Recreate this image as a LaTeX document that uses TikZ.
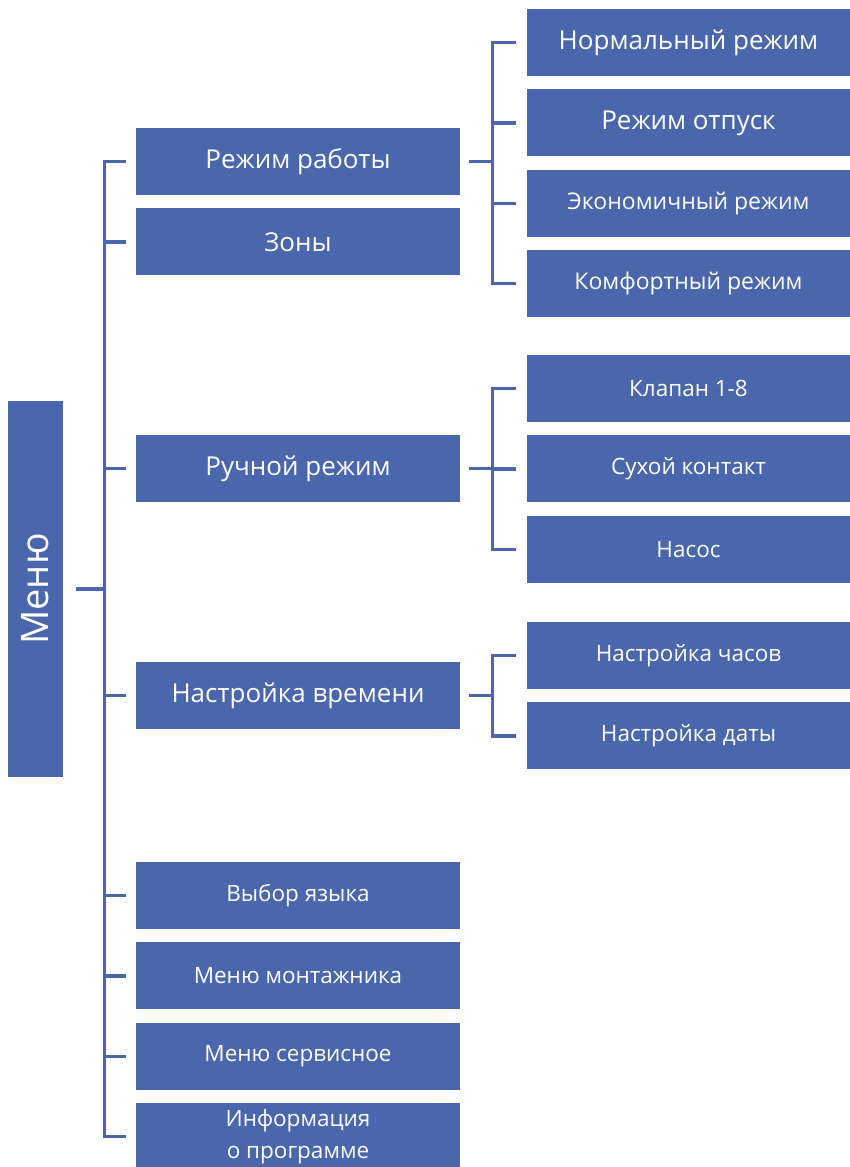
\documentclass[tikz,border=0pt]{standalone}
\usepackage{fontspec}
\setmainfont{Open Sans}
\usepackage{tikz}
\usetikzlibrary{positioning,calc}
\definecolor{menublue}{HTML}{4A66AC}
\tikzset{
  boxnode/.style = {align=center, inner sep=0pt, text centered,
    fill=menublue, text=white},
  box_l/.style = {boxnode, minimum width=324pt, minimum height=67pt},% colonne gauche
  box_r/.style = {boxnode, minimum width=323pt, minimum height=67pt},% colonne droite
  txt_b/.style = {font=\fontsize{26}{30}\selectfont},% grand texte
  txt_m/.style = {font=\fontsize{23}{27}\selectfont},% texte moyen
  txt_s/.style = {font=\fontsize{22.5}{32}\selectfont},% petit texte
  link/.style = {draw=menublue, line width=3.2pt}
}
\begin{document}
\begin{tikzpicture}[x=1pt, y=-1pt]
\useasboundingbox (0,0) rectangle (849,1167);

\node[boxnode, rotate=90, minimum width=376pt, minimum height=55pt,
  font=\fontsize{38}{42}\selectfont] (m) at (35.5,589) {Меню};

% colonne gauche
\node[box_l, txt_b] (r1) at (298,161.5) {Режим работы};
\node[box_l, txt_b] (r2) [below=13pt of r1] {Зоны};
\node[box_l, txt_b] (r3) at (298,468.5) {Ручной режим};
\node[box_l, txt_b] (r4) at (298,695.5) {Настройка времени};
\node[box_l, txt_s] (r5) at (298,895.5) {Выбор языка};
\node[box_l, txt_s] (r6) [below=13pt of r5] {Меню монтажника};
\node[box_l, txt_s] (r7) [below=13pt of r6] {Меню сервисное};
\node[box_l, txt_s] (r8) [below=13pt of r7] {Информация\\о программе};

% colonne droite
\node[box_r, txt_b] (s1) at (688.5,42.5) {Нормальный режим};
\node[box_r, txt_b] (s2) [below=13pt of s1] {Режим отпуск};
\node[box_r, txt_m] (s3) [below=13pt of s2] {Экономичный режим};
\node[box_r, txt_m] (s4) [below=13pt of s3] {Комфортный режим};
\node[box_r, txt_s] (s5) at (688.5,388.5) {Клапан 1-8};
\node[box_r, txt_s] (s6) [below=13pt of s5] {Сухой контакт};
\node[box_r, txt_s] (s7) [below=13pt of s6] {Насос};
\node[box_r, txt_s] (s8) at (688.5,655.5) {Настройка часов};
\node[box_r, txt_s] (s9) [below=13pt of s8] {Настройка даты};

% liens
\draw[link, shorten <=13pt, shorten >=10pt] (m.south) -- ++(41,0) |- (r1.west);
\draw[link, shorten <=13pt, shorten >=10pt] (m.south) -- ++(41,0) |- (r2.west);
\draw[link, shorten <=13pt, shorten >=10pt] (m.south) -- ++(41,0) |- (r3.west);
\draw[link, shorten <=13pt, shorten >=10pt] (m.south) -- ++(41,0) |- (r4.west);
\draw[link, shorten <=13pt, shorten >=10pt] (m.south) -- ++(41,0) |- (r5.west);
\draw[link, shorten <=13pt, shorten >=10pt] (m.south) -- ++(41,0) |- (r6.west);
\draw[link, shorten <=13pt, shorten >=10pt] (m.south) -- ++(41,0) |- (r7.west);
\draw[link, shorten <=13pt, shorten >=10pt] (m.south) -- ++(41,0) |- (r8.west);

\draw[link, shorten <=9pt, shorten >=11pt] (r1.east) -- ++(32,0) |- (s1.west);
\draw[link, shorten <=9pt, shorten >=11pt] (r1.east) -- ++(32,0) |- (s2.west);
\draw[link, shorten <=9pt, shorten >=11pt] (r1.east) -- ++(32,0) |- (s3.west);
\draw[link, shorten <=9pt, shorten >=11pt] (r1.east) -- ++(32,0) |- (s4.west);
\draw[link, shorten <=9pt, shorten >=11pt] (r3.east) -- ++(32,0) |- (s5.west);
\draw[link, shorten <=9pt, shorten >=11pt] (r3.east) -- ++(32,0) |- (s6.west);
\draw[link, shorten <=9pt, shorten >=11pt] (r3.east) -- ++(32,0) |- (s7.west);
\draw[link, shorten <=9pt, shorten >=11pt] (r4.east) -- ++(32,0) |- (s8.west);
\draw[link, shorten <=9pt, shorten >=11pt] (r4.east) -- ++(32,0) |- (s9.west);
\end{tikzpicture}
\end{document}
